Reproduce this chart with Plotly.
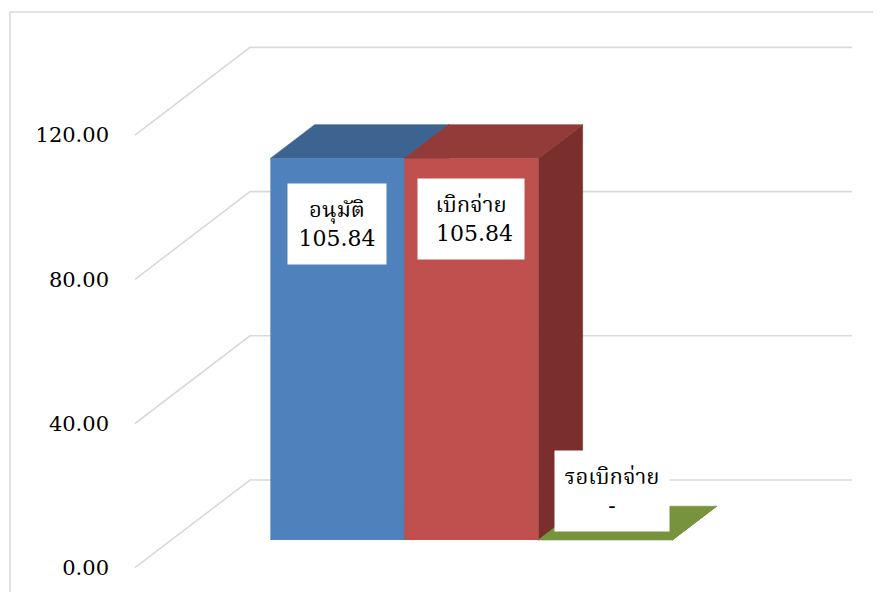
import plotly.graph_objects as go

# ---------------- data ----------------
categories = ["อนุมัติ", "เบิกจ่าย", "รอเบิกจ่าย"]
values = [105.84, 105.84, 0.0]
value_labels = ["105.84", "&nbsp;105.84", "-"]
tick_values = [0, 40, 80, 120]
tick_labels = ["0.00", "40.00", "80.00", "120.00"]

# ---------------- styles ----------------
front_colors = ["#4F81BD", "#C0504D", "#9BBB59"]
top_colors = ["#3D6391", "#923B39", "#77933C"]
side_colors = ["#395D88", "#7A2F2D", "#627A30"]
grid_color = "#D9D9D9"
FONT = "DejaVu Serif, Noto Serif Thai, Noto Sans Thai, serif"

# ---------------- layout geometry (window pixels) ----------------
W, H = 881, 592
OFF = 8                      # page body margin
PL, PR, PT, PB = 115, 871, 10, 582   # plot area in window px
ML, MT = PL - OFF, PT - OFF
MR, MB = W - (PR - OFF), H - (PB - OFF)

CAT_PX = 134.0          # px per category slot
CAT0_PX = 301.0         # window px of category 0 centre (front plane)
Y_PX = 3.605            # px per value unit
Y0_PX = 567.7           # window px of value 0 (front plane)

x_lo = (PL - CAT0_PX) / CAT_PX
x_hi = (PR - CAT0_PX) / CAT_PX
y_lo = -(PB - Y0_PX) / Y_PX
y_hi = (Y0_PX - PT) / Y_PX

# oblique depth projection
DX = 115.0 / CAT_PX
DY = 87.7 / Y_PX
F0 = 0.316      # depth of bar front faces
FD = 0.385      # bar depth
GRID_X0 = (135 - CAT0_PX) / CAT_PX
GRID_X1 = (852 - CAT0_PX) / CAT_PX


def proj(x, v, d):
    return x + d * DX, v + d * DY


def poly(pts, color, lw=0.6):
    xs = [p[0] for p in pts] + [pts[0][0]]
    ys = [p[1] for p in pts] + [pts[0][1]]
    return go.Scatter(x=xs, y=ys, mode="lines", fill="toself", fillcolor=color,
                      line=dict(width=lw, color=color), hoverinfo="skip",
                      showlegend=False)


fig = go.Figure()

# gridlines (floor diagonal + back wall)
for t in tick_values:
    p0 = proj(GRID_X0, t, 0)
    p1 = proj(GRID_X0, t, 1)
    fig.add_trace(go.Scatter(
        x=[p0[0], p1[0], GRID_X1], y=[p0[1], p1[1], p1[1]],
        mode="lines", line=dict(color=grid_color, width=1.6),
        hoverinfo="skip", showlegend=False))

# side faces
for i, v in enumerate(values):
    fig.add_trace(poly([proj(i + 0.5, 0, F0), proj(i + 0.5, v, F0),
                        proj(i + 0.5, v, F0 + FD), proj(i + 0.5, 0, F0 + FD)],
                       side_colors[i]))

# top faces
for i, v in enumerate(values):
    fig.add_trace(poly([proj(i - 0.5, v, F0), proj(i + 0.5, v, F0),
                        proj(i + 0.5, v, F0 + FD), proj(i - 0.5, v, F0 + FD)],
                       top_colors[i]))

# front faces
for i, v in enumerate(values):
    if v > 0:
        fig.add_trace(poly([proj(i - 0.5, 0, F0), proj(i + 0.5, 0, F0),
                            proj(i + 0.5, v, F0), proj(i - 0.5, v, F0)],
                           front_colors[i], lw=0))

# data labels
label_w = [90, 98, 106]
label_yshift = [-25, -20, 8]
label_xshift = [0, 0, 7]
for i, v in enumerate(values):
    x, y = proj(i, v, F0)
    fig.add_annotation(
        x=x, y=y, xref="x", yref="y",
        text=f"{categories[i]}<br>{value_labels[i]}",
        showarrow=False, bgcolor="white", borderpad=4,
        width=label_w[i], height=72, align="center",
        yanchor="top" if v > 0 else "bottom",
        yshift=label_yshift[i], xshift=label_xshift[i],
        font=dict(family=FONT, size=22, color="black"))

# chart-area border
pw, ph = PR - PL, PB - PT
fig.add_shape(type="rect", xref="paper", yref="paper",
              x0=(10 - PL) / pw, x1=(900 - PL) / pw,
              y0=1 - (610 - PT) / ph, y1=1 - (12 - PT) / ph,
              line=dict(color=grid_color, width=1.5), layer="below")

fig.update_layout(
    width=W, height=H,
    margin=dict(l=ML, r=MR, t=MT, b=MB, autoexpand=False),
    paper_bgcolor="white", plot_bgcolor="white",
    xaxis=dict(range=[x_lo, x_hi], visible=False, fixedrange=True),
    yaxis=dict(range=[y_lo, y_hi], tickvals=tick_values, ticktext=tick_labels,
               showgrid=False, zeroline=False, showline=False, ticks="",
               ticklabelstandoff=5, automargin=False,
               tickfont=dict(family=FONT, size=21, color="black"), fixedrange=True),
    showlegend=False,
)

fig.write_html("out.html")
